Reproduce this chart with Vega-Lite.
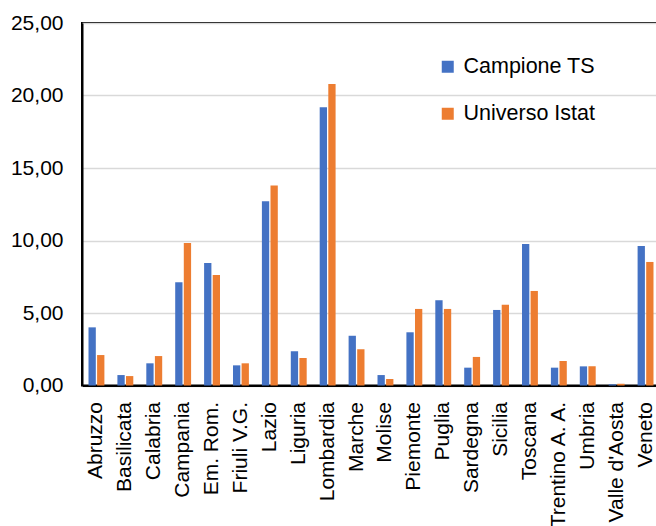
{
  "$schema": "https://vega.github.io/schema/vega-lite/v6.json",
  "autosize": {"type": "none"},
  "padding": {"left": 82, "top": 23, "right": 0, "bottom": 141},
  "width": 578,
  "height": 362.5,
  "data": {"values": [
    {"region": "Abruzzo", "series": "Campione TS", "value": 4.01},
    {"region": "Abruzzo", "series": "Universo Istat", "value": 2.10},
    {"region": "Basilicata", "series": "Campione TS", "value": 0.72},
    {"region": "Basilicata", "series": "Universo Istat", "value": 0.65},
    {"region": "Calabria", "series": "Campione TS", "value": 1.53},
    {"region": "Calabria", "series": "Universo Istat", "value": 2.03},
    {"region": "Campania", "series": "Campione TS", "value": 7.12},
    {"region": "Campania", "series": "Universo Istat", "value": 9.83},
    {"region": "Em. Rom.", "series": "Campione TS", "value": 8.45},
    {"region": "Em. Rom.", "series": "Universo Istat", "value": 7.62},
    {"region": "Friuli V.G.", "series": "Campione TS", "value": 1.39},
    {"region": "Friuli V.G.", "series": "Universo Istat", "value": 1.53},
    {"region": "Lazio", "series": "Campione TS", "value": 12.70},
    {"region": "Lazio", "series": "Universo Istat", "value": 13.80},
    {"region": "Liguria", "series": "Campione TS", "value": 2.36},
    {"region": "Liguria", "series": "Universo Istat", "value": 1.90},
    {"region": "Lombardia", "series": "Campione TS", "value": 19.19},
    {"region": "Lombardia", "series": "Universo Istat", "value": 20.79},
    {"region": "Marche", "series": "Campione TS", "value": 3.43},
    {"region": "Marche", "series": "Universo Istat", "value": 2.50},
    {"region": "Molise", "series": "Campione TS", "value": 0.72},
    {"region": "Molise", "series": "Universo Istat", "value": 0.45},
    {"region": "Piemonte", "series": "Campione TS", "value": 3.67},
    {"region": "Piemonte", "series": "Universo Istat", "value": 5.28},
    {"region": "Puglia", "series": "Campione TS", "value": 5.88},
    {"region": "Puglia", "series": "Universo Istat", "value": 5.28},
    {"region": "Sardegna", "series": "Campione TS", "value": 1.23},
    {"region": "Sardegna", "series": "Universo Istat", "value": 1.97},
    {"region": "Sicilia", "series": "Campione TS", "value": 5.21},
    {"region": "Sicilia", "series": "Universo Istat", "value": 5.57},
    {"region": "Toscana", "series": "Campione TS", "value": 9.76},
    {"region": "Toscana", "series": "Universo Istat", "value": 6.52},
    {"region": "Trentino A. A.", "series": "Campione TS", "value": 1.23},
    {"region": "Trentino A. A.", "series": "Universo Istat", "value": 1.69},
    {"region": "Umbria", "series": "Campione TS", "value": 1.32},
    {"region": "Umbria", "series": "Universo Istat", "value": 1.32},
    {"region": "Valle d'Aosta", "series": "Campione TS", "value": 0.08},
    {"region": "Valle d'Aosta", "series": "Universo Istat", "value": 0.12},
    {"region": "Veneto", "series": "Campione TS", "value": 9.62},
    {"region": "Veneto", "series": "Universo Istat", "value": 8.52}
  ]},
  "mark": {"type": "bar"},
  "encoding": {
    "x": {
      "field": "region", "type": "nominal", "sort": null,
      "scale": {"paddingInner": 0.45, "paddingOuter": 0.225},
      "axis": {
        "title": null, "labelAngle": -90, "labelAlign": "right", "labelBaseline": "middle",
        "labelPadding": 16, "ticks": false, "labelFontSize": 21, "labelFont": "Liberation Sans",
        "labelColor": "#000000", "domainColor": "#000000", "domainWidth": 2, "labelLimit": 300
      }
    },
    "xOffset": {"field": "series", "type": "nominal", "scale": {"paddingInner": 0.15}},
    "y": {
      "field": "value", "type": "quantitative",
      "scale": {"domain": [0, 25], "nice": false},
      "axis": {
        "title": null, "values": [0, 5, 10, 15, 20, 25], "ticks": false,
        "labelExpr": "replace(format(datum.value, '.2f'), '.', ',')",
        "labelPadding": 19, "labelFontSize": 21, "labelFont": "Liberation Sans", "labelColor": "#000000",
        "domainColor": "#000000", "domainWidth": 2,
        "grid": true, "gridColor": "#d9d9d9", "gridWidth": 1.5
      }
    },
    "color": {
      "field": "series", "type": "nominal",
      "scale": {"domain": ["Campione TS", "Universo Istat"], "range": ["#4472C4", "#ED7D31"]},
      "legend": {
        "title": null, "orient": "none", "legendX": 355, "legendY": 33,
        "symbolType": "square", "symbolSize": 144, "symbolStrokeWidth": 0,
        "labelFontSize": 21.5, "labelFont": "Liberation Sans", "labelColor": "#000000",
        "rowPadding": 24, "labelOffset": 5, "labelLimit": 300
      }
    }
  },
  "config": {
    "view": {"stroke": "#000000", "strokeWidth": 2},
    "background": "#ffffff"
  }
}
